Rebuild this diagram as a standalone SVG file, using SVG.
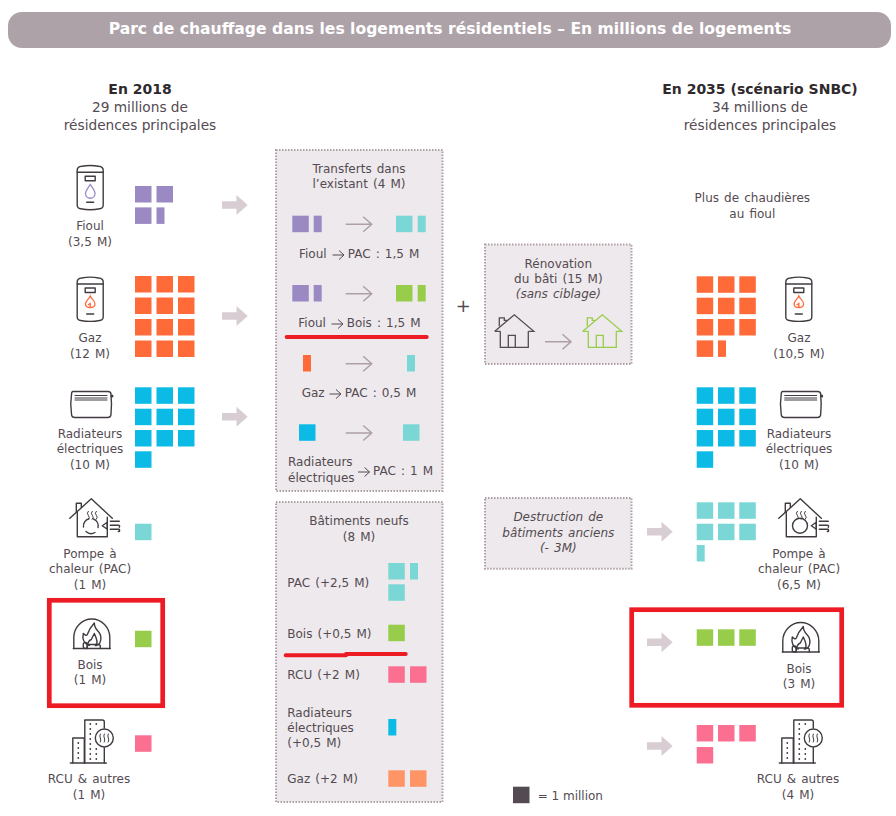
<svg xmlns="http://www.w3.org/2000/svg" width="896" height="816" viewBox="0 0 896 816">
<style>
text{font-family:"DejaVu Sans",Verdana,sans-serif;font-size:12px;fill:#544b52;word-spacing:1.3px}
.m{text-anchor:middle}.i{font-style:italic}
.h{font-size:13.7px;word-spacing:0}.b{font-size:14px;font-weight:bold;fill:#2f2a2e;word-spacing:0}
.t{font-size:15.6px;font-weight:bold;fill:#fff;word-spacing:0}
.box{fill:#eee9ec;stroke:#ae9fa7;stroke-width:2;stroke-dasharray:1.5 1.5}
.red{fill:none;stroke:#ed1c24;stroke-width:4.7}
.rl{fill:none;stroke:#ed1c24;stroke-width:4;stroke-linecap:round}
.ic{fill:none;stroke:#413b41;stroke-width:1.4;stroke-linejoin:round;stroke-linecap:round}
.fi{fill:#9b89c4}.ga{fill:#ff6a39}.ra{fill:#0cbae6}.pa{fill:#7ad7d6}.bo{fill:#97cd4b}.rc{fill:#fb7090}.gl{fill:#ff9566}
.ar{fill:none;stroke:#ae9fa7;stroke-width:1.5}
.sa{fill:none;stroke:#544b52;stroke-width:1}
.big{fill:#d8cdd3}
</style>
<defs>
<rect id="s" width="16.5" height="16.5"/>
<rect id="h" width="8" height="16.5"/>
<path id="ba" d="M0 -3.700H14.500V-10L25.700 0L14.500 10V3.700H0Z"/>
<path id="la" d="M0 0H26M17.500 -7.500L26 0L17.500 7.500"/>
<path id="ta" d="M0 0H11.500M6.500 -4.500L11.500 0L6.500 4.500"/>
<g id="boiler">
<path d="M0.500 6Q0.500 2.500 5 2Q13.500 0.300 22 2Q26.500 2.500 26.500 6V41Q26.500 44 23 44.500Q13.500 46.300 4 44.500Q0.500 44 0.500 41Z"/>
<path d="M0.500 8H26.500"/>
<rect x="8.500" y="12" width="10" height="4.500"/>
<path d="M10 38H17"/>
</g>
<g id="radiator">
<path d="M3 0.500H38Q41 0.500 41 3.500Q42 13 41 23Q41 26.500 37.500 26.500H5Q1.500 26.500 1.500 23Q0 13 1.500 3.500Q1.500 0.500 3 0.500Z"/>
<path d="M5 4.500H37M5 7H37M5 9H37" stroke-width="1"/>
<circle cx="42" cy="5" r="0.800"/>
</g>
<g id="house">
<path d="M0.500 20L22 0.500L43 20"/>
<path d="M7 14V5H12V9"/>
<path d="M8 14V38.500H38V19"/>
<path d="M38 24L33 27.500L38 31Z"/>
<path d="M41 23H50M41 27H49Q51 27 50 29M41 31H50Q51 34 49 33"/>
<path d="M19 13Q17 15 19 17Q21 19 19 21M23 13Q21 15 23 17Q25 19 23 21M27 13Q25 15 27 17Q29 19 27 21" stroke-width="1"/>
</g>
<g id="fire">
<path d="M0.500 30V19A18 18.500 0 0 1 36.500 19V30"/>
<path d="M0 30H37"/>
<path d="M16 27Q8 24 10 15Q13 18 14 16Q16 10 21 4.500Q21 9 25 13Q28 16 27.500 21Q27 26 23 27"/>
<path d="M14 27Q15 22 18 21Q20 17 21 15Q23 19 23.500 22Q24.500 25 22 27"/>
<rect x="10" y="24" width="4" height="6" rx="2"/>
<path d="M14 30V26H25Q27 26 27 28V30"/>
</g>
<g id="building">
<path d="M0 44H36"/>
<path d="M2.500 44V19H14V44"/>
<path d="M14.500 44V1H32Q34 1 34 3V9"/>
<path d="M34 29V44"/>
<circle cx="34" cy="19" r="9"/>
<path d="M30 15Q29 17 30 19Q31 21 30 23M34 15Q33 17 34 19Q35 21 34 23M38 15Q37 17 38 19Q39 21 38 23" stroke-width="1"/>
<path d="M8 24V24.100M8 29V29.100M8 34V34.100M8 39V39.100M20 5V5.100M26 5V5.100M20 10V10.100M20 15V15.100M20 20V20.100M20 25V25.100M20 30V30.100M26 30V30.100M20 35V35.100M26 35V35.100M20 40V40.100M26 40V40.100" stroke-width="1.800"/>
</g>
<g id="home">
<path d="M0.500 17L20 0.500L39.500 17H34"/>
<path d="M6 17H0.500M6 17V33H34V17"/>
<path d="M5 12V3.500H10V6H13"/>
<path d="M14 33V21H21V33"/>
</g>
</defs>

<g id="header">
<rect x="8" y="12" width="883" height="36" rx="14" fill="#aea2a9"/>
<text class="t m" x="450" y="34">Parc de chauffage dans les logements résidentiels – En millions de logements</text>
</g>
<g id="col-2018">
<text class="b m" x="140" y="94">En 2018</text>
<text class="h m" x="140" y="112">29 millions de</text>
<text class="h m" x="140" y="130">résidences principales</text>
</g>
<g id="col-2035">
<text class="b m" x="760" y="94">En 2035 (scénario SNBC)</text>
<text class="h m" x="760" y="112">34 millions de</text>
<text class="h m" x="760" y="130">résidences principales</text>
</g>

<g id="connectors">
<g class="big">
<use href="#ba" x="222" y="205"/>
<use href="#ba" x="222" y="316"/>
<use href="#ba" x="222" y="416.700"/>
<use href="#ba" x="647" y="531.700"/>
<use href="#ba" x="647" y="642.300"/>
<use href="#ba" x="647" y="746"/>
</g>
</g>

<g id="node-fioul-2018">
<use class="ic" href="#boiler" x="76.700" y="164.300"/>
<path d="M90.200 184.500C87 189 85.500 191 85.500 193.500A4.700 4.700 0 0 0 95 193.500C95 191 93.500 189 90.200 184.500Z" fill="none" stroke="#9b89c4" stroke-width="1.300"/>
<g class="fi"><use href="#s" x="135" y="186"/><use href="#s" x="156.500" y="186"/><use href="#s" x="135" y="207.400"/><use href="#h" x="156.500" y="207.400"/></g>
<text class="m" x="90" y="230">Fioul</text><text class="m" x="90" y="246">(3,5 M)</text>
</g>
<g id="node-gaz-2018">
<use class="ic" href="#boiler" x="76.700" y="276"/>
<path d="M90.200 296C91 299 95 300 95 304C95 306.500 93 307.500 90.200 307.500C87.400 307.500 85.500 306.500 85.500 304C85.500 301 89 299 90.200 296ZM90.200 307.500V303.500L88 305" fill="none" stroke="#ff6a39" stroke-width="1.300"/>
<g class="ga"><use href="#s" x="135" y="276"/><use href="#s" x="156.500" y="276"/><use href="#s" x="178" y="276"/><use href="#s" x="135" y="297.500"/><use href="#s" x="156.500" y="297.500"/><use href="#s" x="178" y="297.500"/><use href="#s" x="135" y="319"/><use href="#s" x="156.500" y="319"/><use href="#s" x="178" y="319"/><use href="#s" x="135" y="340.500"/><use href="#s" x="156.500" y="340.500"/><use href="#s" x="178" y="340.500"/></g>
<text class="m" x="90" y="342">Gaz</text><text class="m" x="90" y="357.500">(12 M)</text>
</g>
<g id="node-rad-2018">
<use class="ic" href="#radiator" x="70" y="391"/>
<g class="ra"><use href="#s" x="135" y="387.300"/><use href="#s" x="156.500" y="387.300"/><use href="#s" x="178" y="387.300"/><use href="#s" x="135" y="408.700"/><use href="#s" x="156.500" y="408.700"/><use href="#s" x="178" y="408.700"/><use href="#s" x="135" y="430"/><use href="#s" x="156.500" y="430"/><use href="#s" x="178" y="430"/><use href="#s" x="135" y="451.300"/></g>
<text class="m" x="90" y="437.700">Radiateurs</text><text class="m" x="90" y="452.700">électriques</text><text class="m" x="90" y="469">(10 M)</text>
</g>
<g id="node-pac-2018">
<use class="ic" href="#house" x="69.300" y="498.300"/>
<path class="ic" d="M83.500 527A7.500 7.500 0 0 1 89 518.700M93.500 519A7.500 7.500 0 0 1 98 527.500M95 532.500A7.500 7.500 0 0 1 86 531.500"/>
<use class="pa" href="#s" x="135" y="523.700"/>
<text class="m" x="90" y="557.700">Pompe à</text><text class="m" x="90" y="572.700">chaleur (PAC)</text><text class="m" x="90" y="589">(1 M)</text>
</g>
<g id="node-bois-2018">
<rect class="red" x="49.300" y="600.300" width="113.400" height="105.400"/>
<use class="ic" href="#fire" x="73.300" y="618.500"/>
<use class="bo" href="#s" x="135" y="630.700"/>
<text class="m" x="90" y="669">Bois</text><text class="m" x="90" y="684">(1 M)</text>
</g>
<g id="node-rcu-2018">
<use class="ic" href="#building" x="70.300" y="719"/>
<use class="rc" href="#s" x="135" y="735.300"/>
<text class="m" x="89" y="783.300">RCU &amp; autres</text><text class="m" x="89" y="799.300">(1 M)</text>
</g>

<g id="node-transferts">
<rect class="box" x="276" y="150" width="166.500" height="341"/>
<text class="m" x="359" y="173.300">Transferts dans</text><text class="m" x="359" y="188.300">l’existant (4 M)</text>
<use class="fi" href="#s" x="292.300" y="215.700"/><use class="fi" href="#h" x="313.700" y="215.700"/>
<use class="ar" href="#la" x="345.700" y="224.300"/>
<use class="pa" href="#s" x="396" y="215.700"/><use class="pa" href="#h" x="417.700" y="215.700"/>
<text x="299" y="258.300">Fioul</text><use class="sa" href="#ta" x="332.500" y="255"/><text x="347.700" y="258.300">PAC : 1,5 M</text>
<use class="fi" href="#s" x="292.300" y="285"/><use class="fi" href="#h" x="313.700" y="285"/>
<use class="ar" href="#la" x="345.700" y="293.700"/>
<use class="bo" href="#s" x="396" y="285"/><use class="bo" href="#h" x="417.700" y="285"/>
<text x="298.300" y="327.300">Fioul</text><use class="sa" href="#ta" x="331.500" y="324"/><text x="346.700" y="327.300">Bois : 1,5 M</text>
<path class="rl" d="M286.700 337H426.700"/>
<use class="ga" href="#h" x="303" y="355"/>
<use class="ar" href="#la" x="345.700" y="363.700"/>
<use class="pa" href="#h" x="407" y="355"/>
<text x="301.700" y="397.300">Gaz</text><use class="sa" href="#ta" x="329.500" y="394"/><text x="344.700" y="397.300">PAC : 0,5 M</text>
<use class="ra" href="#s" x="299" y="424.300"/>
<use class="ar" href="#la" x="345.700" y="433"/>
<use class="pa" href="#s" x="403" y="424.300"/>
<text x="288" y="465.700">Radiateurs</text><text x="288" y="481.700">électriques</text>
<use class="sa" href="#ta" x="358" y="472"/><text x="373" y="475">PAC : 1 M</text>
</g>
<g id="node-neufs">
<rect class="box" x="276" y="502" width="166.500" height="300"/>
<text class="m" x="359" y="525">Bâtiments neufs</text><text class="m" x="359" y="540.700">(8 M)</text>
<text x="287.300" y="587.300">PAC (+2,5 M)</text>
<use class="pa" href="#s" x="388.300" y="563"/><use class="pa" href="#h" x="410" y="563"/><use class="pa" href="#s" x="388.300" y="584.300"/>
<text x="287.300" y="638.300">Bois (+0,5 M)</text>
<use class="bo" href="#s" x="388.300" y="624.700"/>
<path class="rl" d="M285.700 655.300H346M346 654H405.700"/>
<text x="287.300" y="679.300">RCU (+2 M)</text>
<use class="rc" href="#s" x="388.300" y="666.300"/><use class="rc" href="#s" x="410" y="666.300"/>
<text x="287.300" y="717.300">Radiateurs</text><text x="287.300" y="732.300">électriques</text><text x="287.300" y="747.300">(+0,5 M)</text>
<use class="ra" href="#h" x="388.300" y="719"/>
<text x="287.300" y="783.300">Gaz (+2 M)</text>
<use class="gl" href="#s" x="388.300" y="770.300"/><use class="gl" href="#s" x="410" y="770.300"/>
</g>
<text id="plus" class="m" x="463.300" y="312" style="font-size:18px">+</text>
<g id="node-renovation">
<rect class="box" x="485" y="244.500" width="146.500" height="119.500"/>
<text class="m" x="558.300" y="268.300">Rénovation</text><text class="m" x="558.300" y="282.700">du bâti (15 M)</text><text class="m i" x="558.300" y="297.700">(sans ciblage)</text>
<use href="#home" x="494.300" y="314.300" fill="none" stroke="#544b52" stroke-width="1.300"/>
<use class="ar" href="#la" x="545" y="341.700"/>
<use href="#home" x="582.300" y="314.300" fill="none" stroke="#97cd4b" stroke-width="1.300"/>
</g>
<g id="node-destruction">
<rect class="box" x="485" y="498" width="146.500" height="70.700"/>
<text class="m i" x="558.300" y="521">Destruction de</text><text class="m i" x="558.300" y="536.700">bâtiments anciens</text><text class="m i" x="558.300" y="552.300">(- 3M)</text>
</g>

<text id="note-fioul" class="m" x="752.300" y="201.700">Plus de chaudières</text>
<text class="m" x="752.300" y="218.300">au fioul</text>

<g id="node-gaz-2035">
<g class="ga"><use href="#s" x="696.700" y="276.300"/><use href="#s" x="718" y="276.300"/><use href="#s" x="739.300" y="276.300"/><use href="#s" x="696.700" y="297.700"/><use href="#s" x="718" y="297.700"/><use href="#s" x="739.300" y="297.700"/><use href="#s" x="696.700" y="319"/><use href="#s" x="718" y="319"/><use href="#s" x="739.300" y="319"/><use href="#s" x="696.700" y="340.400"/><use href="#h" x="718" y="340.400"/></g>
<use class="ic" href="#boiler" x="785.300" y="276"/>
<path d="M798.800 296C799.600 299 803.600 300 803.600 304C803.600 306.500 801.600 307.500 798.800 307.500C796 307.500 794.100 306.500 794.100 304C794.100 301 797.600 299 798.800 296ZM798.800 307.500V303.500L796.600 305" fill="none" stroke="#ff6a39" stroke-width="1.300"/>
<text class="m" x="799" y="341.700">Gaz</text><text class="m" x="799" y="357.700">(10,5 M)</text>
</g>
<g id="node-rad-2035">
<g class="ra"><use href="#s" x="696.700" y="387.300"/><use href="#s" x="718" y="387.300"/><use href="#s" x="739.300" y="387.300"/><use href="#s" x="696.700" y="408.700"/><use href="#s" x="718" y="408.700"/><use href="#s" x="739.300" y="408.700"/><use href="#s" x="696.700" y="430"/><use href="#s" x="718" y="430"/><use href="#s" x="739.300" y="430"/><use href="#s" x="696.700" y="451.300"/></g>
<use class="ic" href="#radiator" x="779.700" y="391"/>
<text class="m" x="799" y="437.700">Radiateurs</text><text class="m" x="799" y="452.700">électriques</text><text class="m" x="799" y="469">(10 M)</text>
</g>
<g id="node-pac-2035">
<g class="pa"><use href="#s" x="696.700" y="502.300"/><use href="#s" x="718" y="502.300"/><use href="#s" x="739.300" y="502.300"/><use href="#s" x="696.700" y="523.700"/><use href="#s" x="718" y="523.700"/><use href="#s" x="739.300" y="523.700"/><use href="#h" x="696.700" y="545"/></g>
<use class="ic" href="#house" x="778.300" y="498.300"/>
<circle class="ic" cx="800" cy="525.700" r="7.500"/>
<text class="m" x="799" y="557.700">Pompe à</text><text class="m" x="799" y="572.700">chaleur (PAC)</text><text class="m" x="799" y="589.300">(6,5 M)</text>
</g>
<g id="node-bois-2035">
<rect class="red" x="631.700" y="609.700" width="210" height="95.600"/>
<g class="bo"><use href="#s" x="696.700" y="629.300"/><use href="#s" x="718" y="629.300"/><use href="#s" x="739.300" y="629.300"/></g>
<use class="ic" href="#fire" x="782.300" y="622"/>
<text class="m" x="799" y="672.700">Bois</text><text class="m" x="799" y="688.300">(3 M)</text>
</g>
<g id="node-rcu-2035">
<g class="rc"><use href="#s" x="696.700" y="725"/><use href="#s" x="718" y="725"/><use href="#s" x="739.300" y="725"/><use href="#s" x="696.700" y="747"/></g>
<use class="ic" href="#building" x="779.300" y="719"/>
<text class="m" x="798" y="783.300">RCU &amp; autres</text><text class="m" x="798" y="799.300">(4 M)</text>
</g>
<g id="legend">
<rect x="513" y="786.700" width="16.500" height="16.500" fill="#544b52"/>
<text x="537.700" y="800" style="word-spacing:0">= 1 million</text>
</g>
</svg>
